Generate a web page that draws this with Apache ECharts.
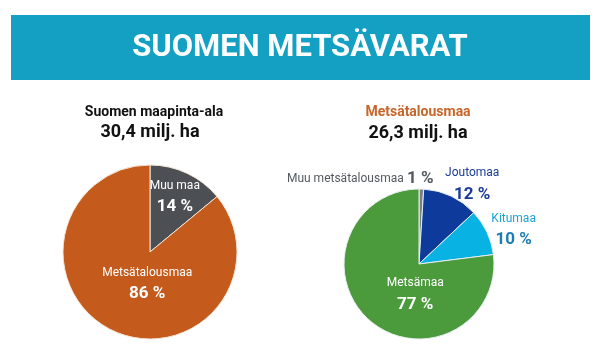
<!DOCTYPE html>
<html><head><meta charset="utf-8">
<script src="https://cdn.jsdelivr.net/npm/echarts@6/dist/echarts.min.js"></script>
<style>html,body{margin:0;padding:0;background:#fff}#c{width:600px;height:354px}</style>
</head><body><div id="c"></div>
<script>
const mainTitle = 'SUOMEN METSÄVARAT';
const leftTitle = 'Suomen maapinta-ala';
const leftTotal = '30,4 milj. ha';
const leftNames = ['Muu maa', 'Metsätalousmaa'];
const leftValues = [14, 86];
const rightTitle = 'Metsätalousmaa';
const rightTotal = '26,3 milj. ha';
const rightNames = ['Muu metsätalousmaa', 'Joutomaa', 'Kitumaa', 'Metsämaa'];
const rightValues = [1, 12, 10, 77];

const FONT = 'Roboto, "Noto Sans", sans-serif';
const leftColors = ['#4c4f53', '#c45a1b'];
const rightColors = ['#7c7f84', '#0e3a9b', '#08b2e3', '#4b9a3b'];
const leftOffsets = [[5, -13], [17, -10]];
const rightOffsets = [[-60, -45], [36, -43], [58, -17], [23, 0]];
const rightLabelColors = [['#555a60', '#555a60'], ['#1a3c96', '#1a3c96'], ['#1da3d3', '#1b7db2'], ['#ffffff', '#ffffff']];

function makeLabel(offset, c, inline) {
  return {
    show: true,
    position: 'inside',
    offset: offset,
    overflow: 'none',
    formatter: inline ? '{a|{b}} {b2|{c} %}' : '{a|{b}}\n{b2|{c} %}',
    rich: {
      a: { color: c[0], fontSize: 12, fontFamily: FONT, lineHeight: 20 },
      b2: { color: c[1], fontSize: 17, fontWeight: 'bold', fontFamily: FONT, lineHeight: 22 }
    }
  };
}
function leftData() {
  return leftNames.map((n, i) => ({
    name: n, value: leftValues[i],
    itemStyle: { color: leftColors[i] },
    label: makeLabel(leftOffsets[i], ['#ffffff', '#ffffff'], false)
  }));
}
function rightData() {
  return rightNames.map((n, i) => ({
    name: n, value: rightValues[i],
    itemStyle: { color: rightColors[i] },
    label: makeLabel(rightOffsets[i], rightLabelColors[i], i === 0)
  }));
}

const chart = echarts.init(document.getElementById('c'), null, { renderer: 'canvas' });
chart.setOption({
  backgroundColor: '#ffffff',
  animation: false,
  graphic: [
    { type: 'rect', shape: { x: 11, y: 15, width: 579, height: 65 }, style: { fill: '#13a0c3' } },
    { type: 'text', x: 300, y: 48, style: { text: mainTitle, fill: '#ffffff', font: 'bold 31px ' + FONT, textAlign: 'center', textVerticalAlign: 'middle' } },
    { type: 'text', x: 154, y: 112, style: { text: leftTitle, fill: '#111111', font: 'bold 14px ' + FONT, textAlign: 'center', textVerticalAlign: 'middle' } },
    { type: 'text', x: 150, y: 132, style: { text: leftTotal, fill: '#111111', font: 'bold 18px ' + FONT, textAlign: 'center', textVerticalAlign: 'middle' } },
    { type: 'text', x: 418, y: 112, style: { text: rightTitle, fill: '#c8652a', font: 'bold 14px ' + FONT, textAlign: 'center', textVerticalAlign: 'middle' } },
    { type: 'text', x: 418, y: 133, style: { text: rightTotal, fill: '#111111', font: 'bold 18px ' + FONT, textAlign: 'center', textVerticalAlign: 'middle' } }
  ],
  series: [
    {
      type: 'pie', center: [150, 252], radius: [0, 87], startAngle: 90, clockwise: true,
      avoidLabelOverlap: false,
      itemStyle: { borderColor: '#f3e6d6', borderWidth: 1 },
      labelLine: { show: false },
      emphasis: { disabled: true },
      data: leftData()
    },
    {
      type: 'pie', center: [419, 264], radius: [0, 75], startAngle: 90, clockwise: true,
      avoidLabelOverlap: false,
      itemStyle: { borderColor: '#e8f0f4', borderWidth: 1 },
      labelLine: { show: false },
      emphasis: { disabled: true },
      data: rightData()
    }
  ]
});
</script></body></html>
